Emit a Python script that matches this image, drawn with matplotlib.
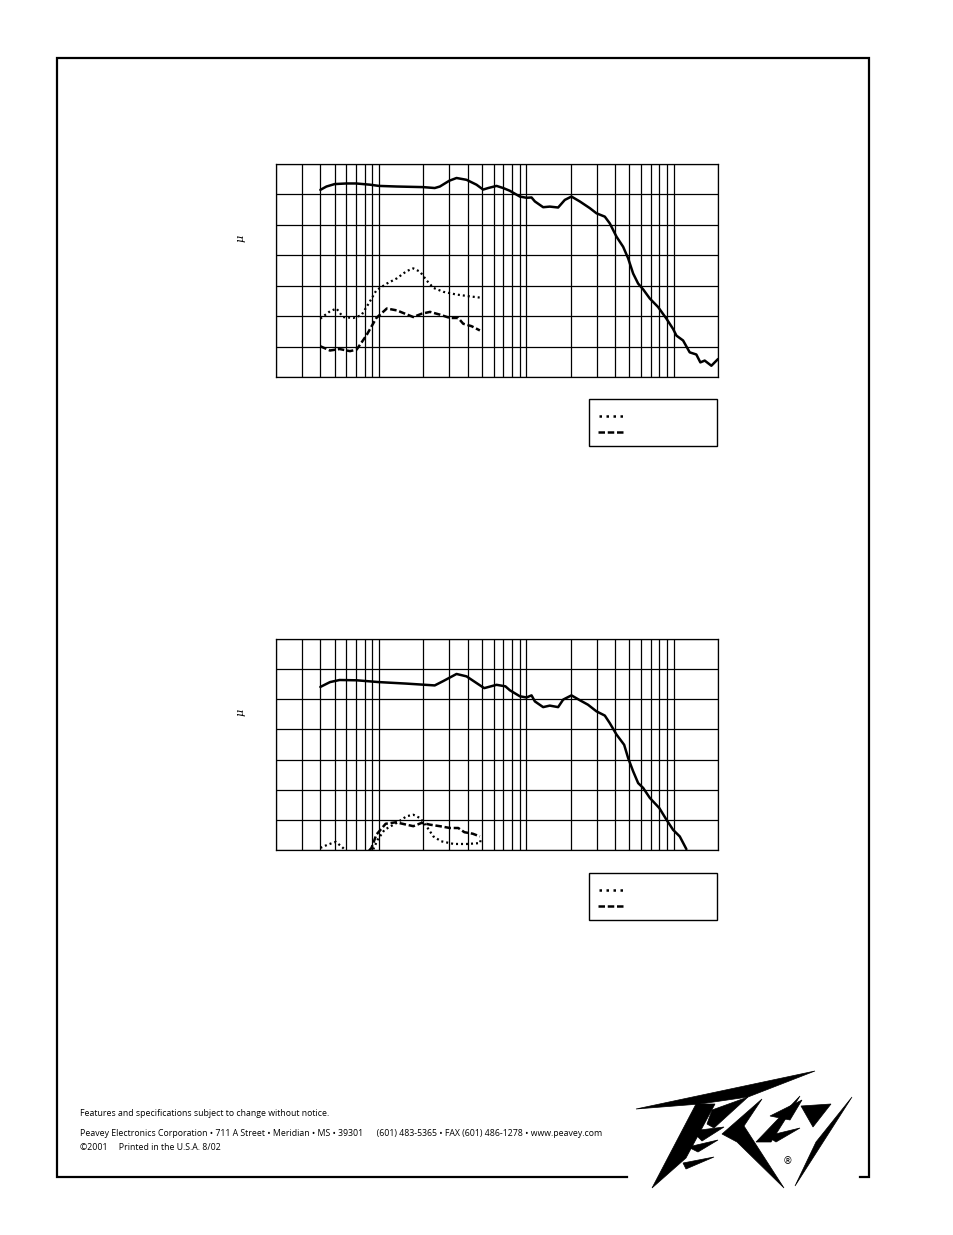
import matplotlib
matplotlib.use("Agg")
import matplotlib.pyplot as plt
from matplotlib.patches import Polygon, Rectangle
import numpy as np

W, H = 954, 1235

# --- chart 1 data (frequency in Hz, level in dB, 10 dB per grid division) ---
f1_solid = [40, 44, 50, 60, 70, 87, 100, 132, 200, 239, 259, 300, 336, 393, 459, 509, 551,
            628, 697, 773, 904, 1003, 1085, 1143, 1301, 1443, 1644, 1825, 2025, 2306, 2697,
            2993, 3410, 3685, 4095, 4541, 4910, 5310, 5741, 6208, 6886, 7840, 8924, 9909,
            10447, 11590, 12851, 14256, 15180, 16250, 18030, 20000]
v1_solid = [61.5, 62.6, 63.4, 63.6, 63.6, 63.2, 62.8, 62.6, 62.4, 62.1, 62.6, 64.5, 65.4, 64.8,
            63.2, 61.6, 62.1, 62.8, 62.1, 61.2, 59.3, 58.9, 59.0, 57.7, 55.8, 56.0, 55.7, 58.2,
            59.3, 57.7, 55.5, 53.8, 52.7, 50.5, 46.1, 42.8, 39.0, 34.0, 30.7, 28.8, 25.8, 23.0,
            19.2, 15.8, 13.6, 12.0, 8.1, 7.4, 4.8, 5.4, 3.7, 5.9]
f1_dot = [40, 46.5, 51.5, 57, 67, 76, 85, 96, 113, 132, 154, 171, 190, 210, 234, 273, 336, 414, 484]
v1_dot = [19.2, 21.6, 22.5, 19.7, 19.4, 20.3, 24.1, 28.5, 30.7, 32.4, 34.8, 35.7, 34.6, 31.8,
          29.3, 28.0, 27.1, 26.5, 26.1]
f1_dash = [40, 46.5, 54, 63.5, 70.5, 82, 96, 113, 132, 171, 195, 222, 259, 303, 345, 373, 425, 484]
v1_dash = [10.1, 8.7, 9.2, 8.5, 9.0, 13.6, 19.4, 22.5, 21.9, 19.7, 20.8, 21.4, 20.5, 19.4,
           19.4, 17.5, 16.7, 15.3]

# --- chart 2 data ---
f2_solid = [40, 46.5, 54, 70.5, 100, 154, 239, 272, 336, 393, 459, 518, 628, 721, 773, 904,
            1003, 1085, 1143, 1301, 1443, 1644, 1779, 2025, 2306, 2622, 2993, 3410, 3685,
            4095, 4614, 4910, 5310, 5741, 6208, 6886, 7997, 8924, 9909, 11002, 12200]
v2_solid = [54.1, 55.7, 56.4, 56.3, 55.7, 55.2, 54.6, 56.0, 58.4, 57.6, 55.4, 53.7, 54.8,
            54.3, 53.0, 51.0, 50.6, 51.3, 49.3, 47.4, 47.9, 47.4, 49.9, 51.3, 49.7, 48.2,
            46.0, 44.6, 42.1, 38.3, 34.9, 30.5, 26.1, 22.2, 20.6, 17.3, 13.9, 10.1, 6.7,
            4.5, 0.3]
f2_dot = [40, 45, 51, 57, 66, 76, 91, 98, 109, 132, 154, 171, 190, 210, 234, 264, 322, 398, 486, 490]
v2_dot = [0.7, 1.8, 2.7, 0.7, -3.0, -3.0, 0.0, 3.4, 6.7, 9.0, 11.2, 11.7, 10.6, 7.9,
          4.5, 2.9, 2.0, 2.0, 2.3, 3.4]
f2_dash = [40, 55, 70, 89, 96, 111, 130, 171, 195, 222, 259, 303, 345, 380, 433, 484]
v2_dash = [-6.0, -6.0, -5.0, 0.7, 5.1, 8.7, 9.2, 7.9, 9.0, 8.4, 7.9, 7.3, 7.3, 5.9, 5.4, 4.5]

grid_freqs = sorted(set([20, 30, 40, 50, 60, 70, 80, 90] + [f * m for m in (100, 1000, 10000)
                                                           for f in range(1, 10)] + [20000]))
grid_freqs = [g for g in grid_freqs if 20 <= g <= 20000]

footer1 = "Features and specifications subject to change without notice."
footer2 = ("Peavey Electronics Corporation \u2022 711 A Street \u2022 Meridian \u2022 MS \u2022 39301"
           "      (601) 483-5365 \u2022 FAX (601) 486-1278 \u2022 www.peavey.com")
footer3 = "\u00a92001     Printed in the U.S.A. 8/02"

DOT = (0, (0.9, 1.35))
DASH = (0, (2.6, 1.1))

fig = plt.figure(figsize=(W / 100, H / 100), dpi=100)
fig.patch.set_facecolor("white")


def px_axes(left, top, right, bottom):
    return fig.add_axes([left / W, 1 - bottom / H, (right - left) / W, (bottom - top) / H])


def response_chart(top, bottom, series):
    ax = px_axes(276, top, 718, bottom)
    ax.set_xscale("log")
    ax.set_xlim(20, 20000)
    ax.set_ylim(0, 70)
    ax.set_xticks(grid_freqs)
    ax.set_xticks([], minor=True)
    ax.set_yticks(np.arange(0, 71, 10))
    ax.set_xticklabels([])
    ax.set_yticklabels([])
    ax.tick_params(length=0, which="both")
    ax.grid(True, color="black", linewidth=0.9)
    for s in ax.spines.values():
        s.set_linewidth(0.9)
    for f, v, ls, lw in series:
        ax.plot(f, v, color="black", linestyle=ls, linewidth=lw, clip_on=True,
                solid_capstyle="round")
    return ax


response_chart(164, 377, [(f1_solid, v1_solid, "-", 1.8),
                          (f1_dot, v1_dot, DOT, 1.6),
                          (f1_dash, v1_dash, DASH, 1.8)])
response_chart(639, 850, [(f2_solid, v2_solid, "-", 1.8),
                          (f2_dot, v2_dot, DOT, 1.6),
                          (f2_dash, v2_dash, DASH, 1.8)])

# page overlay in pixel coordinates
pg = fig.add_axes([0, 0, 1, 1])
pg.set_xlim(0, W)
pg.set_ylim(H, 0)
pg.axis("off")
pg.patch.set_alpha(0)

# page frame
pg.plot([627, 57, 57, 869, 869, 860], [1177, 1177, 58, 58, 1177, 1177],
        color="black", linewidth=1.6, solid_joinstyle="miter")

# y-axis label remnants
for yc in (238, 712):
    pg.text(241, yc, "\u03bc", rotation=90, ha="center", va="center", fontsize=8,
            family="DejaVu Serif", style="italic")

# legend boxes
for top in (399, 873):
    pg.add_patch(Rectangle((589, top), 128, 47, fill=False, edgecolor="black", linewidth=1.0))
    pg.plot([599, 623], [top + 17, top + 17], color="black", linewidth=1.8,
            linestyle=(0, (1.0, 1.8)))
    pg.plot([598, 624], [top + 33, top + 33], color="black", linewidth=1.8, linestyle=DASH)

# footer
ft = dict(fontsize=6.3, family="Open Sans", va="center", ha="left")
pg.text(80, 1113, footer1, **ft)
pg.text(80, 1134, footer2, **ft)
pg.text(80, 1148, footer3, **ft)

# logo (approximate shapes)
logo = [
    [(636, 1109), (815, 1071), (748, 1097), (700, 1104)],
    [(696, 1104), (715, 1104), (686, 1158), (652, 1188)],
    [(712, 1110), (748, 1097), (714, 1128), (707, 1124)],
    [(692, 1131), (724, 1127), (702, 1141)],
    [(688, 1147), (718, 1140), (698, 1152)],
    [(683, 1163), (714, 1157), (686, 1169)],
    [(722, 1134), (762, 1099), (744, 1126), (784, 1188), (737, 1142)],
    [(756, 1142), (800, 1096), (771, 1142)],
    [(770, 1116), (802, 1100), (790, 1120)],
    [(767, 1136), (800, 1128), (776, 1142)],
    [(795, 1186), (852, 1097), (816, 1142)],
    [(801, 1106), (831, 1104), (813, 1127)],
]
for p in logo:
    pg.add_patch(Polygon(p, closed=True, facecolor="black", edgecolor="black", linewidth=0.5))
pg.text(788, 1161, "\u00ae", fontsize=7, ha="center", va="center", family="DejaVu Sans")

fig.savefig("out.png", dpi=100, facecolor="white")
